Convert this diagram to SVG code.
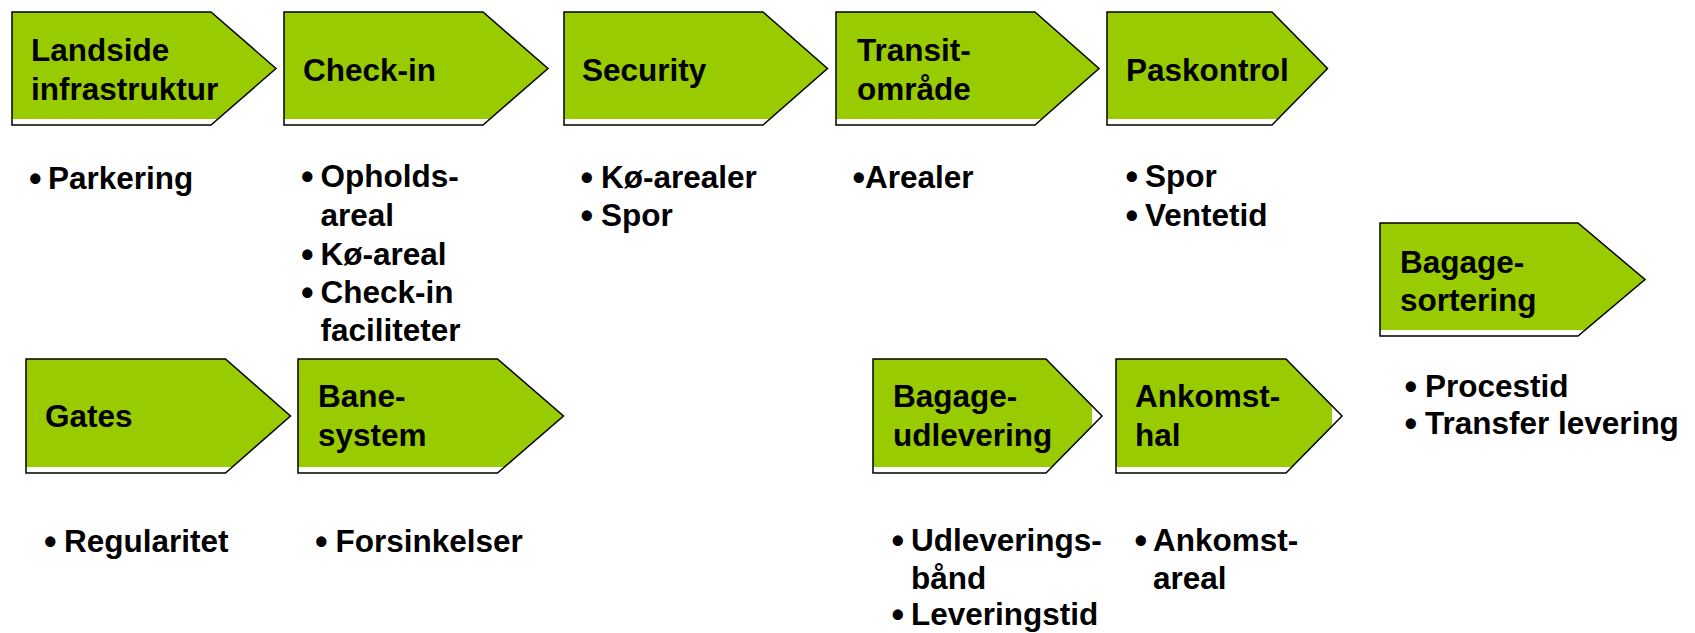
<svg xmlns="http://www.w3.org/2000/svg" width="1695" height="633" viewBox="0 0 1695 633">
<style>
.g{fill:#99CC00;stroke:none}
.o{fill:none;stroke:#000;stroke-width:1.5;stroke-linejoin:miter}
text{font-family:"Liberation Sans",Arial,sans-serif;font-weight:bold;font-size:31.5px;fill:#000}
text.b{font-size:36px}
</style>
<rect width="1695" height="633" fill="#fff"/>
<g id="landside">
<polygon class="g" points="12,12 211,12 276,68.5 217.5,119 12,119"/>
<polygon class="o" points="12,12 211,12 276,68.5 211,125 12,125"/>
<text x="31" y="61">Landside</text><text x="31" y="100">infrastruktur</text>
</g>
<g id="checkin">
<polygon class="g" points="284,12 483,12 548,68.5 490,119 284,119"/>
<polygon class="o" points="284,12 483,12 548,68.5 483,125 284,125"/>
<text x="303" y="81">Check-in</text>
</g>
<g id="security">
<polygon class="g" points="564,12 763,12 827.5,68.5 770,119 564,119"/>
<polygon class="o" points="564,12 763,12 827.5,68.5 763,125 564,125"/>
<text x="582" y="81">Security</text>
</g>
<g id="transit">
<polygon class="g" points="836,12 1035,12 1099,68.5 1041.5,119 836,119"/>
<polygon class="o" points="836,12 1035,12 1099,68.5 1035,125 836,125"/>
<text x="857" y="61">Transit-</text><text x="857" y="100">område</text>
</g>
<g id="paskontrol">
<polygon class="g" points="1107,12 1272,12 1327.5,68.5 1278,119 1107,119"/>
<polygon class="o" points="1107,12 1272,12 1327.5,68.5 1272,125 1107,125"/>
<text x="1126" y="81">Paskontrol</text>
</g>
<g id="bagagesortering">
<polygon class="g" points="1380,223 1578,223 1645,279.5 1585,330 1380,330"/>
<polygon class="o" points="1380,223 1578,223 1645,279.5 1578,336 1380,336"/>
<text x="1400" y="273">Bagage-</text><text x="1400" y="311">sortering</text>
</g>
<g id="gates">
<polygon class="g" points="26,359 225.5,359 290.5,416 232.5,467 26,467"/>
<polygon class="o" points="26,359 225.5,359 290.5,416 225.5,473 26,473"/>
<text x="45" y="427">Gates</text>
</g>
<g id="banesystem">
<polygon class="g" points="298,359 497.5,359 563.5,416 504.5,467 298,467"/>
<polygon class="o" points="298,359 497.5,359 563.5,416 497.5,473 298,473"/>
<text x="318" y="407">Bane-</text><text x="318" y="446">system</text>
</g>
<g id="bagageudlevering">
<polygon class="g" points="873,359 1046,359 1092,405.5 1092,426.5 1052,467 873,467"/>
<polygon class="o" points="873,359 1046,359 1102,416 1046,473 873,473"/>
<text x="893" y="407">Bagage-</text><text x="893" y="446">udlevering</text>
</g>
<g id="ankomsthal">
<polygon class="g" points="1116,359 1286,359 1332,405.5 1332,426.5 1292.5,467 1116,467"/>
<polygon class="o" points="1116,359 1286,359 1342,416 1286,473 1116,473"/>
<text x="1135" y="407">Ankomst-</text><text x="1135" y="446">hal</text>
</g>
<g id="bullets">
<text class="b" x="29" y="190.5">•</text><text x="48" y="189">Parkering</text>
<text class="b" x="301" y="188.5">•</text><text x="320.5" y="187">Opholds-</text>
<text x="320.5" y="226">areal</text>
<text class="b" x="301" y="266.5">•</text><text x="320.5" y="265">Kø-areal</text>
<text class="b" x="301" y="304.5">•</text><text x="320.5" y="303">Check-in</text>
<text x="320.5" y="341">faciliteter</text>
<text class="b" x="580.5" y="189.5">•</text><text x="601" y="188">Kø-arealer</text>
<text class="b" x="580.5" y="227.5">•</text><text x="601" y="226">Spor</text>
<text class="b" x="852.5" y="189.5">•</text><text x="865" y="188">Arealer</text>
<text class="b" x="1125.5" y="188.5">•</text><text x="1145" y="187">Spor</text>
<text class="b" x="1125.5" y="227.5">•</text><text x="1145" y="226">Ventetid</text>
<text class="b" x="1404.5" y="398.5">•</text><text x="1425" y="397">Procestid</text>
<text class="b" x="1404.5" y="435.5">•</text><text x="1425" y="434">Transfer levering</text>
<text class="b" x="44" y="553.5">•</text><text x="64" y="552">Regularitet</text>
<text class="b" x="315" y="553.5">•</text><text x="335.5" y="552">Forsinkelser</text>
<text class="b" x="891.5" y="552.5">•</text><text x="911" y="551">Udleverings-</text>
<text x="911" y="589">bånd</text>
<text class="b" x="891.5" y="626.5">•</text><text x="911" y="625">Leveringstid</text>
<text class="b" x="1134.5" y="552.5">•</text><text x="1153" y="551">Ankomst-</text>
<text x="1153" y="589">areal</text>
</g>
</svg>
